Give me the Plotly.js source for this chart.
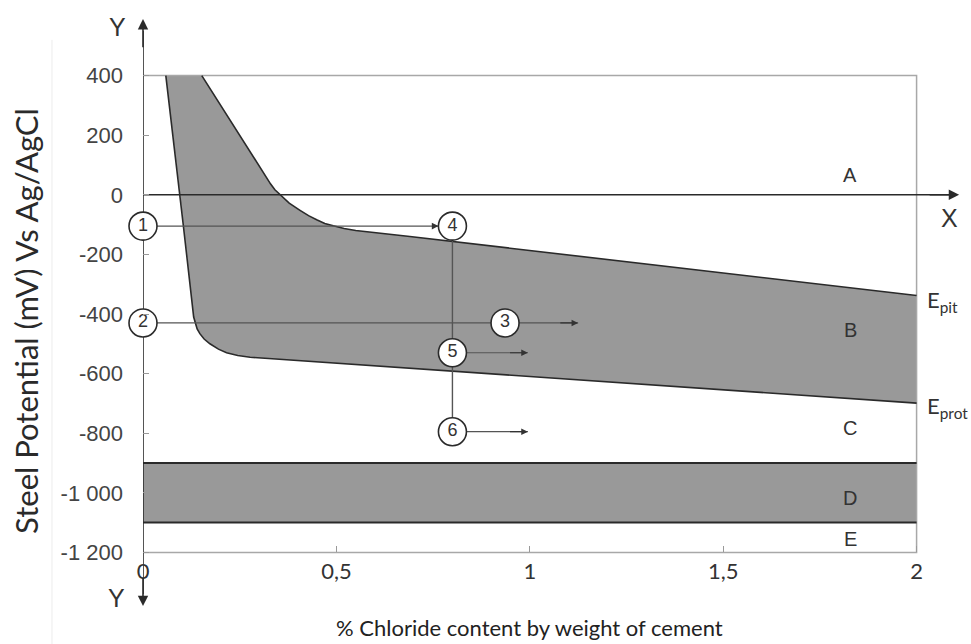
<!DOCTYPE html>
<html><head><meta charset="utf-8">
<script src="https://cdn.plot.ly/plotly-3.0.1.min.js"></script>
<style>body{margin:0;background:#fff}#chart{width:971px;height:644px}</style>
</head><body><div id="chart"></div>
<script>
// Epit curve (upper boundary of region B)
const epitX = [0.152, 0.25, 0.318, 0.33, 0.341, 0.354, 0.378, 0.406, 0.428, 0.449, 0.47, 0.492, 0.52, 0.55, 0.69, 2];
const epitY = [400, 200, 58, 36, 17, 0, -28, -52, -70, -84, -96, -104, -113, -120, -140, -338];
// Eprot curve (lower boundary of region B)
const eprotX = [0.059, 0.096, 0.104, 0.131, 0.135, 0.140, 0.147, 0.158, 0.173, 0.195, 0.216, 0.245, 0.277, 0.535, 2];
const eprotY = [400, 0, -100, -410, -432, -450, -466, -484, -500, -518, -530, -539, -545, -568, -699];
// Band D
const bandX = [0, 2];
const bandTop = -900;
const bandBottom = -1100;
// Frame
const xMin = 0, xMax = 2, yMin = -1200, yMax = 400;
// Axis arrow ends
const xArrowEnd = 2.11;
const yArrowTop = 590;
const yArrowBottom = -1380;
// Numbered states
const circX = [0, 0, 0.936, 0.8, 0.8, 0.8];
const circY = [-105, -430, -430, -105, -530, -795];
const circLabels = ['1', '2', '3', '4', '5', '6'];
// arrows: [fromIndex, toX, toY]
const arrowEnds = [[0, 0.8, -105], [2, 1.125, -430], [4, 0.995, -530], [5, 0.995, -795]];
// Ticks
const yTicks = [-1200, -1000, -800, -600, -400, -200, 0, 200, 400];
const yTickText = ['-1 200', '-1 000', '-800', '-600', '-400', '-200', '0', '200', '400'];
const xTicks = [0, 0.5, 1, 1.5, 2];
const xTickText = ['0', '0,5', '1', '1,5', '2'];
// Region labels
const regionLabels = ['A', 'B', 'C', 'D', 'E'];
const regionX = [1.828, 1.828, 1.828, 1.828, 1.828];
const regionY = [67, -453, -782, -1017, -1154];
// Titles
const xTitle = '% Chloride content by weight of cement';
const yTitle = 'Steel Potential (mV) Vs Ag/AgCl';

const GRAY = '#999999';
const DARK = '#2a2a2a';
const LINE = '#555555';

const polyX = epitX.concat(eprotX.slice().reverse());
const polyY = epitY.concat(eprotY.slice().reverse());

function seg(x, y, color, width) {
  return {x: x, y: y, type: 'scatter', mode: 'lines', line: {color: color, width: width},
    hoverinfo: 'skip', showlegend: false, cliponaxis: false};
}

const traces = [
  {x: polyX, y: polyY, type: 'scatter', mode: 'lines', fill: 'toself', fillcolor: GRAY,
   line: {width: 0, color: GRAY}, hoverinfo: 'skip', showlegend: false},
  {x: [bandX[0], bandX[1], bandX[1], bandX[0]], y: [bandTop, bandTop, bandBottom, bandBottom],
   type: 'scatter', mode: 'lines', fill: 'toself', fillcolor: GRAY, line: {width: 0, color: GRAY},
   hoverinfo: 'skip', showlegend: false},
  seg([xMin, xMax, xMax, xMin], [yMax, yMax, yMin, yMin], '#a8a8a8', 1.5),
  seg(bandX, [bandTop, bandTop], DARK, 2),
  seg(bandX, [bandBottom, bandBottom], DARK, 2),
  seg(epitX, epitY, DARK, 1.6),
  seg(eprotX, eprotY, DARK, 1.6),
  // axes
  seg([0, xArrowEnd - 0.02], [0, 0], DARK, 1.6),
  seg([0, 0], [yArrowBottom + 40, yArrowTop - 40], DARK, 1.6),
  // connecting lines
  seg([circX[0], circX[3]], [circY[0], circY[3]], LINE, 1.2),
  seg([circX[1], circX[2]], [circY[1], circY[2]], LINE, 1.2),
  seg([circX[3], circX[5]], [circY[3], circY[5]], LINE, 1.4),
  seg([circX[2], arrowEnds[1][1]], [circY[2], arrowEnds[1][2]], LINE, 1.2),
  seg([circX[4], arrowEnds[2][1]], [circY[4], arrowEnds[2][2]], LINE, 1.2),
  seg([circX[5], arrowEnds[3][1]], [circY[5], arrowEnds[3][2]], LINE, 1.2),
  {x: circX, y: circY, text: circLabels, type: 'scatter', mode: 'markers+text', textposition: 'middle center',
   cliponaxis: false,
   marker: {symbol: 'circle', size: 28, color: '#ffffff', line: {color: DARK, width: 1.6}},
   textfont: {family: 'Liberation Sans, Arial', size: 18, color: '#333'}, showlegend: false}
];

const annotations = [];
arrowEnds.forEach(a => {
  annotations.push({x: a[1], y: a[2], ax: a[1] - 0.05, ay: a[2], xref: 'x', yref: 'y', axref: 'x', ayref: 'y',
    text: '', showarrow: true, arrowhead: 2, arrowsize: 1.1, arrowwidth: 1.2, arrowcolor: '#333',
    standoff: a[0] === 0 ? 14 : 0});
});
// axes arrowheads
annotations.push({x: xArrowEnd, y: 0, ax: xArrowEnd - 0.08, ay: 0, xref: 'x', yref: 'y', axref: 'x', ayref: 'y', text: '', showarrow: true,
  arrowhead: 2, arrowsize: 1.3, arrowwidth: 1.6, arrowcolor: DARK});
annotations.push({x: 0, y: yArrowTop, ax: 0, ay: yArrowTop - 100, xref: 'x', yref: 'y', axref: 'x', ayref: 'y', text: '', showarrow: true,
  arrowhead: 2, arrowsize: 1.3, arrowwidth: 1.6, arrowcolor: DARK});
annotations.push({x: 0, y: yArrowBottom, ax: 0, ay: yArrowBottom + 100, xref: 'x', yref: 'y', axref: 'x', ayref: 'y', text: '', showarrow: true,
  arrowhead: 2, arrowsize: 1.3, arrowwidth: 1.6, arrowcolor: DARK});
const axFont = {family: 'Liberation Sans, Arial', size: 25, color: '#333'};
annotations.push({x: -0.0305, y: 564, xref: 'paper', yref: 'y', xanchor: 'center', yanchor: 'middle', text: 'Y', showarrow: false, font: axFont});
annotations.push({x: -0.032, y: -1352, xref: 'paper', yref: 'y', xanchor: 'center', yanchor: 'middle', text: 'Y', showarrow: false, font: axFont});
annotations.push({x: 2.086, y: -77, xref: 'x', yref: 'y', xanchor: 'center', yanchor: 'middle', text: 'X', showarrow: false, font: axFont});
regionLabels.forEach((t, i) => {
  annotations.push({x: regionX[i], y: regionY[i], xref: 'x', yref: 'y', text: t, showarrow: false,
    xanchor: 'center', yanchor: 'middle',
    font: {family: 'Liberation Sans, Arial', size: 20, color: '#333'}});
});
const eFont = {family: 'Lato, Noto Sans', size: 22, color: '#333'};
annotations.push({x: 2, y: -357, xref: 'x', yref: 'y', text: 'E<sub>pit</sub>', showarrow: false, xanchor: 'left', yanchor: 'middle', xshift: 8, font: eFont});
annotations.push({x: 2, y: -712, xref: 'x', yref: 'y', text: 'E<sub>prot</sub>', showarrow: false, xanchor: 'left', yanchor: 'middle', xshift: 8, font: eFont});
// axis titles
annotations.push({x: 1, y: -0.026, xref: 'x', yref: 'paper', xanchor: 'center', yanchor: 'middle', text: xTitle, showarrow: false,
  font: {family: 'Lato, Noto Sans', size: 22, color: '#222'}});
annotations.push({x: -0.143, y: 0.488, xref: 'paper', yref: 'paper', xanchor: 'center', yanchor: 'middle', text: yTitle, showarrow: false, textangle: -90,
  font: {family: 'Lato, Noto Sans', size: 31, color: '#2a2a2a'}});

const layout = {
  width: 971, height: 644,
  margin: {l: 143, r: 8, t: 16, b: 32},
  paper_bgcolor: '#ffffff', plot_bgcolor: 'rgba(0,0,0,0)',
  showlegend: false,
  xaxis: {range: [0, 2.12], showgrid: false, zeroline: false, showline: false,
    anchor: 'free', position: 0.1,
    tickmode: 'array', tickvals: xTicks, ticktext: xTickText, ticks: 'inside', ticklen: 6, tickcolor: '#999',
    ticklabelstandoff: 4,
    tickfont: {family: 'Lato, Noto Sans', size: 22, color: '#333'}},
  yaxis: {range: [-1400, 600], showgrid: false, zeroline: false, showline: false,
    tickmode: 'array', tickvals: yTicks, ticktext: yTickText, ticks: 'inside', ticklen: 6, tickcolor: '#999',
    ticklabelstandoff: 19,
    tickfont: {family: 'Liberation Sans, Arial', size: 22, color: '#444'}},
  annotations: annotations,
  shapes: [{type: 'line', xref: 'paper', yref: 'paper', x0: -0.111, x1: -0.111, y0: 0.96, y1: -0.06,
    line: {color: '#ececec', width: 1}}]
};

Plotly.newPlot('chart', traces, layout, {staticPlot: true});
</script>
</body></html>
